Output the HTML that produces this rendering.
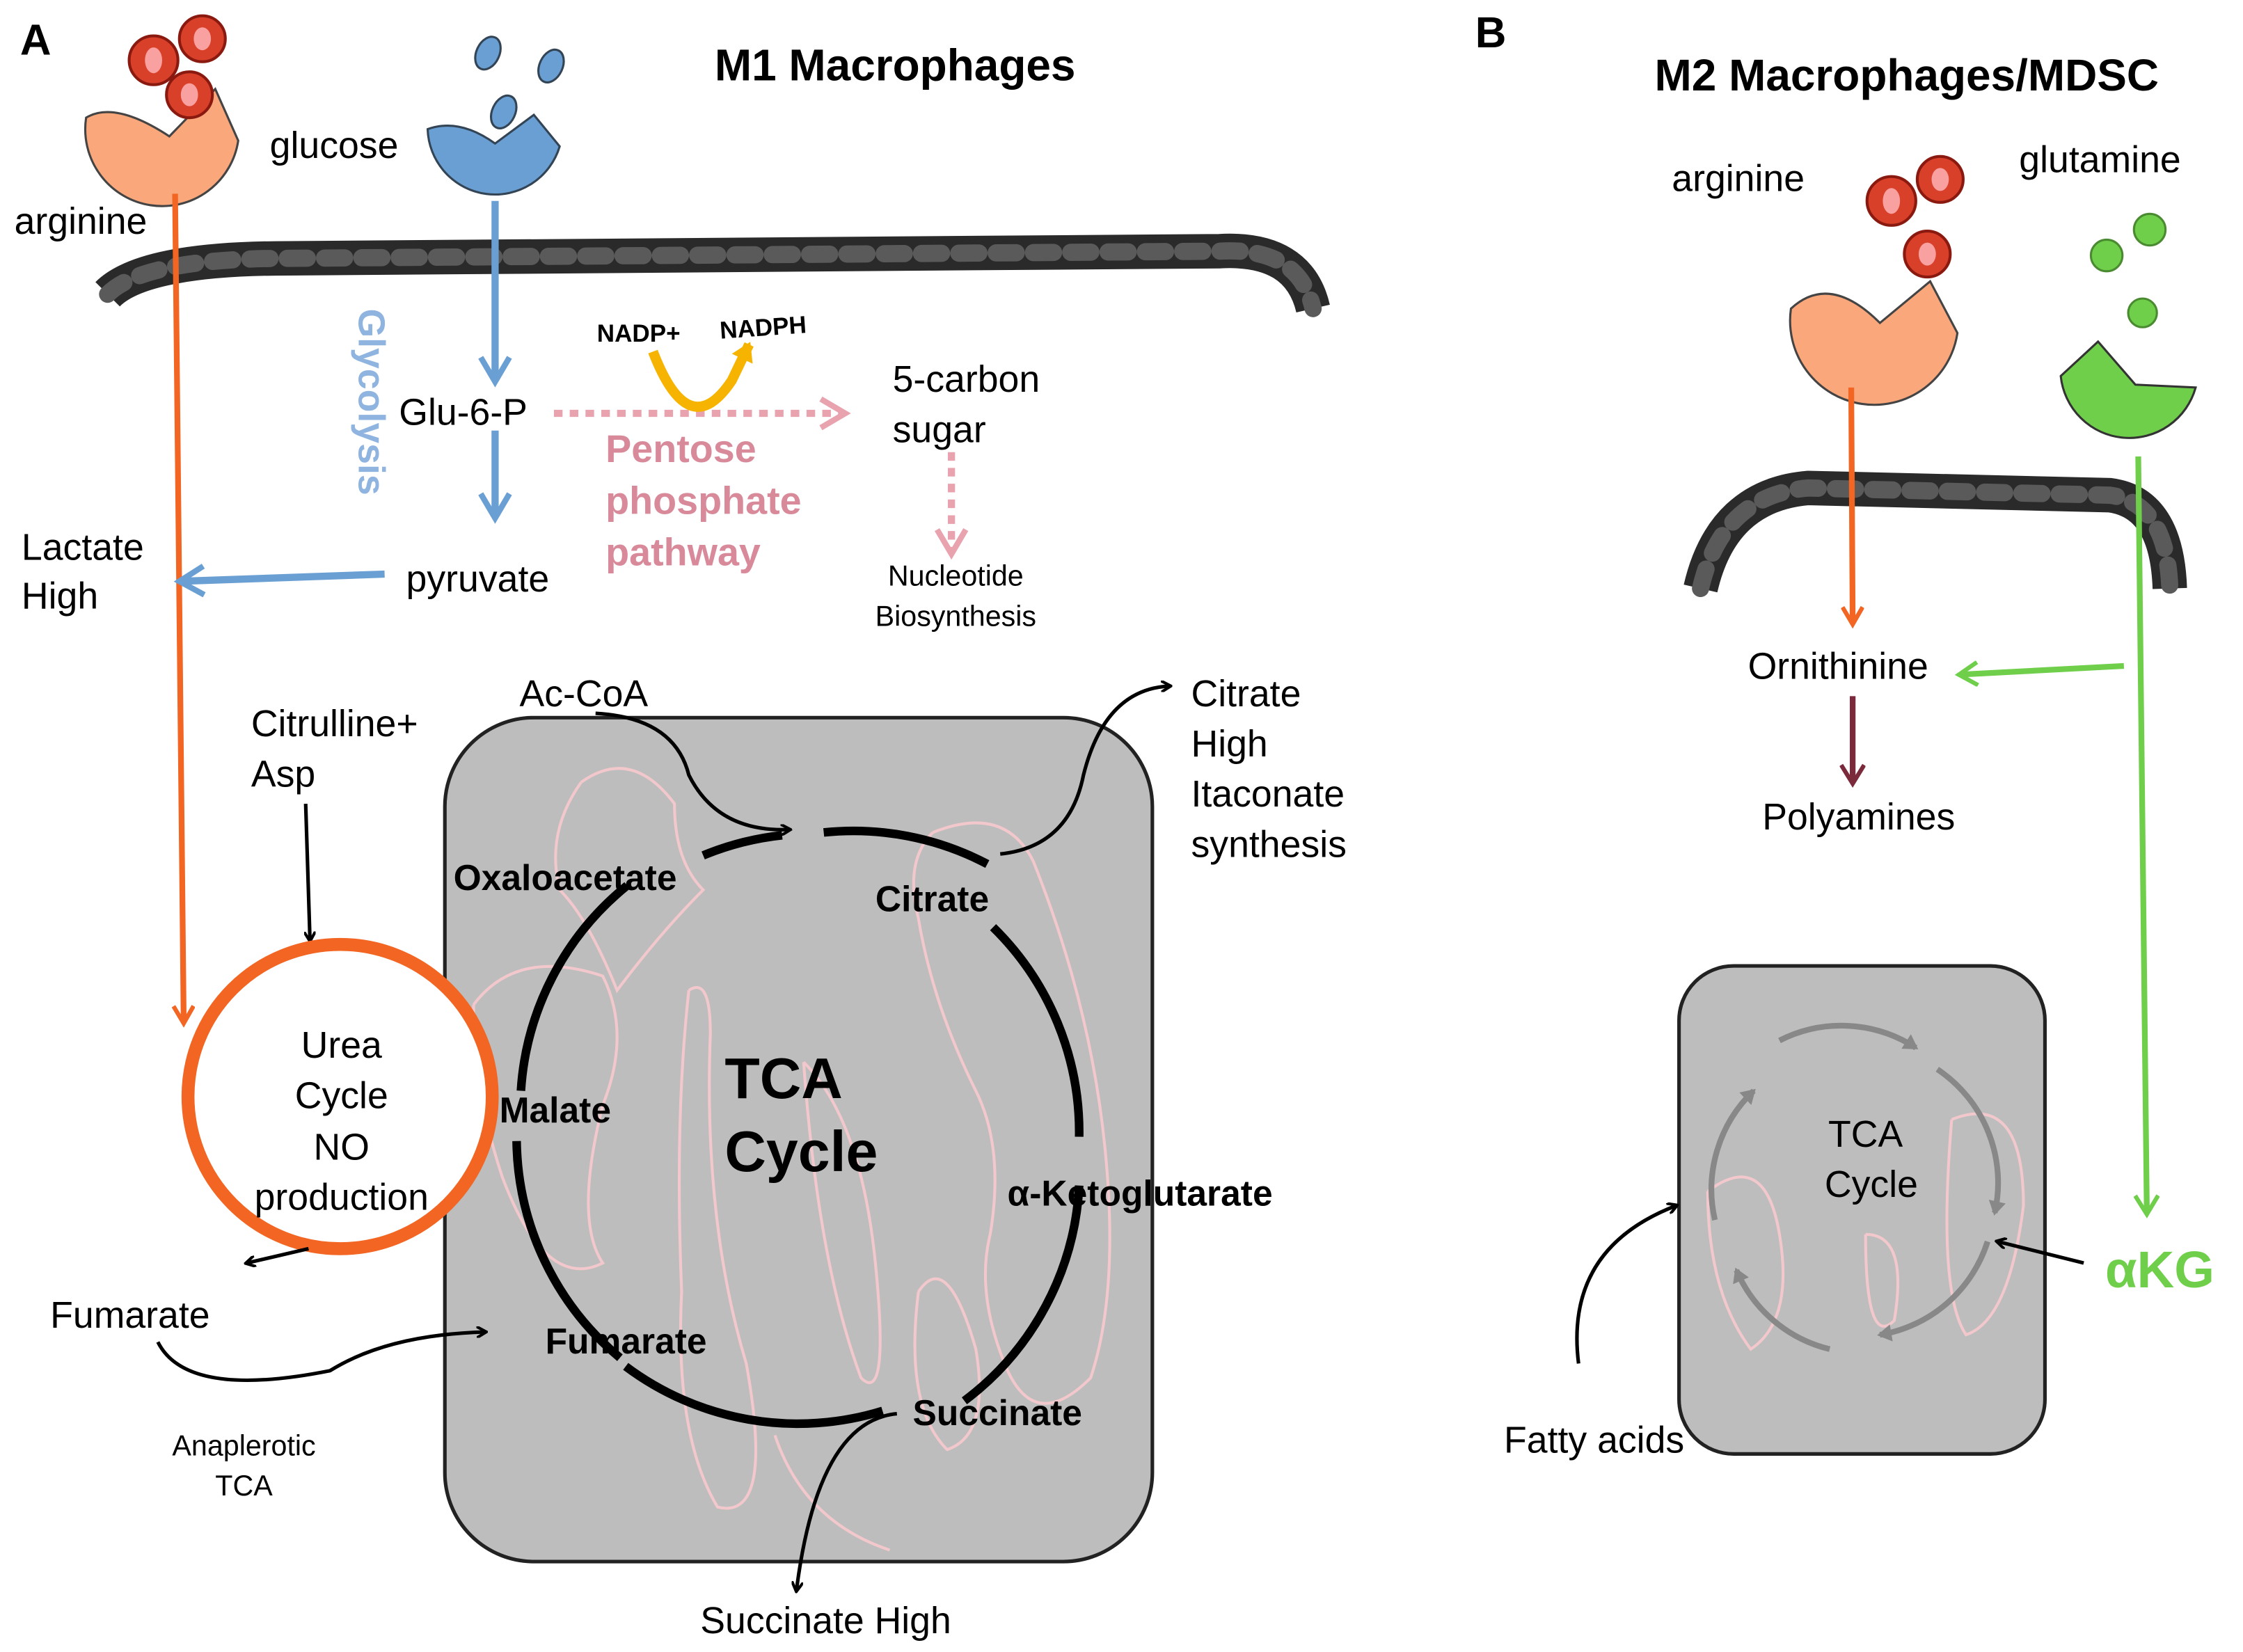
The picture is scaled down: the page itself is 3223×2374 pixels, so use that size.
<!DOCTYPE html>
<html><head><meta charset="utf-8"><style>
html,body{margin:0;padding:0;background:#fff}
svg{display:block}
text{font-family:"Liberation Sans",sans-serif}
</style></head><body>
<svg width="3223" height="2374" viewBox="0 0 1563 1151" preserveAspectRatio="none" xmlns="http://www.w3.org/2000/svg">
<defs>
<marker id="ab" markerWidth="8" markerHeight="8" refX="6" refY="4" orient="auto" markerUnits="userSpaceOnUse"><path d="M0,0 L7,4 L0,8" fill="none" stroke="#000" stroke-width="2"/></marker>
<marker id="ao" markerWidth="16" markerHeight="16" refX="12" refY="8" orient="auto" markerUnits="userSpaceOnUse"><path d="M1,1 L13,8 L1,15" fill="none" stroke="#f26522" stroke-width="3"/></marker>
<marker id="abl" markerWidth="24" markerHeight="24" refX="18" refY="12" orient="auto" markerUnits="userSpaceOnUse"><path d="M2,2 L19,12 L2,22" fill="none" stroke="#6a9fd4" stroke-width="4"/></marker>
<marker id="ap" markerWidth="24" markerHeight="24" refX="18" refY="12" orient="auto" markerUnits="userSpaceOnUse"><path d="M2,2 L19,12 L2,22" fill="none" stroke="#e8a3ae" stroke-width="4"/></marker>
<marker id="ag" markerWidth="18" markerHeight="18" refX="13" refY="9" orient="auto" markerUnits="userSpaceOnUse"><path d="M1,1 L14,9 L1,17" fill="none" stroke="#6fcf4a" stroke-width="3"/></marker>
<marker id="ar" markerWidth="18" markerHeight="18" refX="13" refY="9" orient="auto" markerUnits="userSpaceOnUse"><path d="M1,1 L14,9 L1,17" fill="none" stroke="#7a2a3a" stroke-width="3"/></marker>
<marker id="ay" markerWidth="18" markerHeight="18" refX="12" refY="9" orient="auto" markerUnits="userSpaceOnUse"><path d="M1,1 L14,9 L1,17 Z" fill="#f6b400"/></marker>
<marker id="agr" markerWidth="14" markerHeight="14" refX="9" refY="7" orient="auto" markerUnits="userSpaceOnUse"><path d="M1,1 L11,7 L1,13 Z" fill="#888"/></marker>
</defs>

<!-- Panel A -->
<text x="14" y="38" font-size="30" font-weight="bold">A</text>
<text x="498" y="56" font-size="31" font-weight="bold">M1 Macrophages</text>

<!-- membrane A -->
<path d="M75,205 Q100,180 200,180 L850,175 Q905,172 915,215" fill="none" stroke="#2a2a2a" stroke-width="24"/>
<path d="M75,205 Q100,180 200,180 L850,175 Q905,172 915,215" fill="none" stroke="#5a5a5a" stroke-width="12" stroke-linecap="round" stroke-dasharray="14 12"/>

<!-- arginine receptor (bowl open up-right) -->
<path d="M60,82 Q80,70 118,95 L150,62 L166,98 A53,53 0 0 1 60,82 Z" fill="#f9a77b" stroke="#444" stroke-width="1.5"/>
<g stroke="#8a1a10" stroke-width="2"><circle cx="107" cy="42" r="17" fill="#d8402a"/><circle cx="141" cy="27" r="16" fill="#d8402a"/><circle cx="132" cy="66" r="16" fill="#d8402a"/></g>
<g fill="#f9a0a0"><ellipse cx="107" cy="42" rx="6" ry="9"/><ellipse cx="141" cy="27" rx="6" ry="8"/><ellipse cx="132" cy="66" rx="6" ry="8"/></g>
<text x="10" y="163" font-size="26">arginine</text>

<!-- glucose receptor -->
<path d="M298,90 Q320,82 345,100 L372,80 L390,102 A47,47 0 0 1 298,90 Z" fill="#6a9fd4" stroke="#345" stroke-width="1.5"/>
<g fill="#6a9fd4" stroke="#345" stroke-width="1.5"><ellipse cx="340" cy="37" rx="8" ry="12" transform="rotate(25 340 37)"/><ellipse cx="384" cy="46" rx="8" ry="12" transform="rotate(25 384 46)"/><ellipse cx="351" cy="78" rx="8" ry="12" transform="rotate(25 351 78)"/></g>
<text x="188" y="110" font-size="26">glucose</text>

<line x1="122" y1="135" x2="128" y2="712" stroke="#f26522" stroke-width="4" marker-end="url(#ao)"/>

<line x1="345" y1="140" x2="345" y2="265" stroke="#6a9fd4" stroke-width="5" marker-end="url(#abl)"/>
<line x1="345" y1="300" x2="345" y2="360" stroke="#6a9fd4" stroke-width="5" marker-end="url(#abl)"/>
<text x="0" y="0" font-size="26" font-weight="bold" fill="#8fb4e0" transform="translate(250,215) rotate(90)">Glycolysis</text>
<text x="278" y="296" font-size="26">Glu-6-P</text>
<line x1="386" y1="288" x2="588" y2="288" stroke="#e8a3ae" stroke-width="5" stroke-dasharray="6 5" marker-end="url(#ap)"/>
<path d="M455,245 Q480,310 510,265 L522,240" fill="none" stroke="#f6b400" stroke-width="7" marker-end="url(#ay)"/>
<text x="416" y="238" font-size="17" font-weight="bold">NADP+</text>
<text x="502" y="236" font-size="17" font-weight="bold" transform="rotate(-4 502 236)">NADPH</text>
<text font-size="27" font-weight="bold" fill="#d88a9a"><tspan x="422" y="322">Pentose</tspan><tspan x="422" y="358">phosphate</tspan><tspan x="422" y="394">pathway</tspan></text>
<text font-size="26"><tspan x="622" y="273">5-carbon</tspan><tspan x="622" y="308">sugar</tspan></text>
<line x1="663" y1="315" x2="663" y2="385" stroke="#e8a3ae" stroke-width="5" stroke-dasharray="6 5" marker-end="url(#ap)"/>
<text font-size="20" text-anchor="middle"><tspan x="666" y="408">Nucleotide</tspan><tspan x="666" y="436">Biosynthesis</tspan></text>
<text x="283" y="412" font-size="26">pyruvate</text>
<line x1="268" y1="400" x2="126" y2="405" stroke="#6a9fd4" stroke-width="5" marker-end="url(#abl)"/>
<text font-size="26"><tspan x="15" y="390">Lactate</tspan><tspan x="15" y="424">High</tspan></text>

<text font-size="26"><tspan x="175" y="513">Citrulline+</tspan><tspan x="175" y="548">Asp</tspan></text>
<line x1="213" y1="560" x2="216" y2="655" stroke="#000" stroke-width="2.5" marker-end="url(#ab)"/>

<rect x="310" y="500" width="493" height="588" rx="62" fill="#bdbdbd" stroke="#222" stroke-width="2.5"/>
<g fill="none" stroke="#f2c8cc" stroke-width="2">
<path d="M405,545 Q440,520 470,560 Q470,600 490,620 Q460,650 430,690 Q410,640 390,620 Q380,580 405,545"/>
<path d="M330,700 Q360,660 420,680 Q440,720 420,770 Q400,850 420,880 Q380,900 350,820 Q330,760 330,700"/>
<path d="M480,690 Q495,680 495,720 Q490,850 520,950 Q540,1060 500,1050 Q470,1000 475,900 Q470,780 480,690"/>
<path d="M560,740 Q600,780 610,880 Q620,980 600,960 Q570,880 560,740"/>
<path d="M650,580 Q700,560 720,600 Q760,700 770,800 Q780,900 760,960 Q720,1000 700,950 Q680,900 690,860 Q700,800 680,760 Q650,700 640,640 Q630,600 650,580"/>
<path d="M640,900 Q660,870 680,940 Q690,1000 660,1010 Q630,980 640,900"/>
<path d="M540,1000 Q560,1060 620,1080"/>
</g>

<g fill="none" stroke="#000" stroke-width="6">
<path d="M437,617 A200,200 0 0 0 363,760"/>
<path d="M360,795 A200,200 0 0 0 432,946"/>
<path d="M436,952 A200,200 0 0 0 615,983"/>
<path d="M672,976 A200,200 0 0 0 752,826"/>
<path d="M752,792 A200,200 0 0 0 692,646"/>
<path d="M574,580 A200,200 0 0 1 688,602"/>
<path d="M490,596 A200,200 0 0 1 545,582"/>
</g>
<path d="M415,497 Q470,500 480,540 Q500,580 550,578" fill="none" stroke="#000" stroke-width="2.5" marker-end="url(#ab)"/>
<path d="M697,595 Q745,590 755,540 Q770,480 815,478" fill="none" stroke="#000" stroke-width="2.5" marker-end="url(#ab)"/>
<path d="M625,985 Q570,990 555,1108" fill="none" stroke="#000" stroke-width="2.5" marker-end="url(#ab)"/>

<text font-size="25" font-weight="bold">
<tspan x="316" y="620">Oxaloacetate</tspan>
<tspan x="610" y="635">Citrate</tspan>
<tspan x="348" y="782">Malate</tspan>
<tspan x="702" y="840">α-Ketoglutarate</tspan>
<tspan x="380" y="943">Fumarate</tspan>
<tspan x="636" y="993">Succinate</tspan>
</text>
<text font-size="40" font-weight="bold"><tspan x="505" y="765">TCA</tspan><tspan x="505" y="816">Cycle</tspan></text>
<text x="362" y="492" font-size="26">Ac-CoA</text>
<text font-size="26"><tspan x="830" y="492">Citrate</tspan><tspan x="830" y="527">High</tspan><tspan x="830" y="562">Itaconate</tspan><tspan x="830" y="597">synthesis</tspan></text>
<text x="488" y="1138" font-size="26">Succinate High</text>

<circle cx="237" cy="764" r="106" fill="#fff" stroke="#f26522" stroke-width="9"/>
<text font-size="26" text-anchor="middle"><tspan x="238" y="737">Urea</tspan><tspan x="238" y="772">Cycle</tspan><tspan x="238" y="808">NO</tspan><tspan x="238" y="843">production</tspan></text>
<path d="M215,870 L172,880" stroke="#000" stroke-width="2.5" marker-end="url(#ab)"/>
<text x="35" y="925" font-size="26">Fumarate</text>
<path d="M110,935 Q130,975 230,955 Q270,930 338,928" fill="none" stroke="#000" stroke-width="2.5" marker-end="url(#ab)"/>
<text font-size="20" text-anchor="middle"><tspan x="170" y="1014">Anaplerotic</tspan><tspan x="170" y="1042">TCA</tspan></text>

<!-- Panel B -->
<text x="1028" y="33" font-size="30" font-weight="bold">B</text>
<text x="1153" y="63" font-size="31" font-weight="bold">M2 Macrophages/MDSC</text>
<text x="1165" y="133" font-size="26">arginine</text>
<text x="1407" y="120" font-size="26">glutamine</text>
<g stroke="#8a1a10" stroke-width="2"><circle cx="1318" cy="140" r="17" fill="#d8402a"/><circle cx="1352" cy="125" r="16" fill="#d8402a"/><circle cx="1343" cy="177" r="16" fill="#d8402a"/></g>
<g fill="#f9a0a0"><ellipse cx="1318" cy="140" rx="6" ry="9"/><ellipse cx="1352" cy="125" rx="6" ry="8"/><ellipse cx="1343" cy="177" rx="6" ry="8"/></g>
<g fill="#6fcf4a" stroke="#4a8a30" stroke-width="1.5"><circle cx="1468" cy="178" r="11"/><circle cx="1498" cy="160" r="11"/><circle cx="1493" cy="218" r="10"/></g>
<path d="M1248,215 Q1275,190 1310,225 L1345,196 L1364,232 A58,58 0 0 1 1248,215 Z" fill="#f9a77b" stroke="#444" stroke-width="1.5"/>
<path d="M1436,262 L1462,238 L1488,268 L1530,270 A48,48 0 0 1 1436,262 Z" fill="#6fcf4a" stroke="#333" stroke-width="1.5"/>
<path d="M1185,410 Q1200,345 1260,340 L1470,345 Q1510,350 1512,410" fill="none" stroke="#2a2a2a" stroke-width="24"/>
<path d="M1185,410 Q1200,345 1260,340 L1470,345 Q1510,350 1512,410" fill="none" stroke="#5a5a5a" stroke-width="12" stroke-linecap="round" stroke-dasharray="14 12"/>
<line x1="1290" y1="270" x2="1291" y2="434" stroke="#f26522" stroke-width="4" marker-end="url(#ao)"/>
<line x1="1490" y1="318" x2="1496" y2="845" stroke="#6fcf4a" stroke-width="4" marker-end="url(#ag)"/>
<line x1="1480" y1="464" x2="1366" y2="470" stroke="#6fcf4a" stroke-width="4" marker-end="url(#ag)"/>
<text x="1218" y="473" font-size="26">Ornithinine</text>
<line x1="1291" y1="485" x2="1291" y2="545" stroke="#7a2a3a" stroke-width="4" marker-end="url(#ar)"/>
<text x="1228" y="578" font-size="26">Polyamines</text>

<rect x="1170" y="673" width="255" height="340" rx="38" fill="#bdbdbd" stroke="#222" stroke-width="2.5"/>
<g fill="none" stroke="#f2c8cc" stroke-width="2">
<path d="M1190,830 Q1230,800 1240,860 Q1250,920 1220,940 Q1190,900 1190,830"/>
<path d="M1300,860 Q1330,860 1320,920 Q1300,940 1300,860"/>
<path d="M1360,780 Q1410,760 1410,840 Q1400,920 1370,930 Q1350,900 1360,780"/>
</g>
<g fill="none" stroke="#888" stroke-width="4" marker-end="url(#agr)">
<path d="M1240,725 A95,95 0 0 1 1335,730"/>
<path d="M1350,745 A95,95 0 0 1 1390,845"/>
<path d="M1385,865 A95,95 0 0 1 1310,930"/>
<path d="M1275,940 A95,95 0 0 1 1210,885"/>
<path d="M1195,850 A95,95 0 0 1 1222,760"/>
</g>
<text font-size="26" text-anchor="middle"><tspan x="1300" y="799">TCA</tspan><tspan x="1304" y="834">Cycle</tspan></text>
<path d="M1452,880 L1392,865" stroke="#000" stroke-width="2.5" marker-end="url(#ab)"/>
<text x="1467" y="897" font-size="36" font-weight="bold" fill="#6fcf4a">αKG</text>
<path d="M1100,950 Q1090,870 1168,840" fill="none" stroke="#000" stroke-width="2.5" marker-end="url(#ab)"/>
<text x="1048" y="1012" font-size="26">Fatty acids</text>
</svg>
</body></html>
